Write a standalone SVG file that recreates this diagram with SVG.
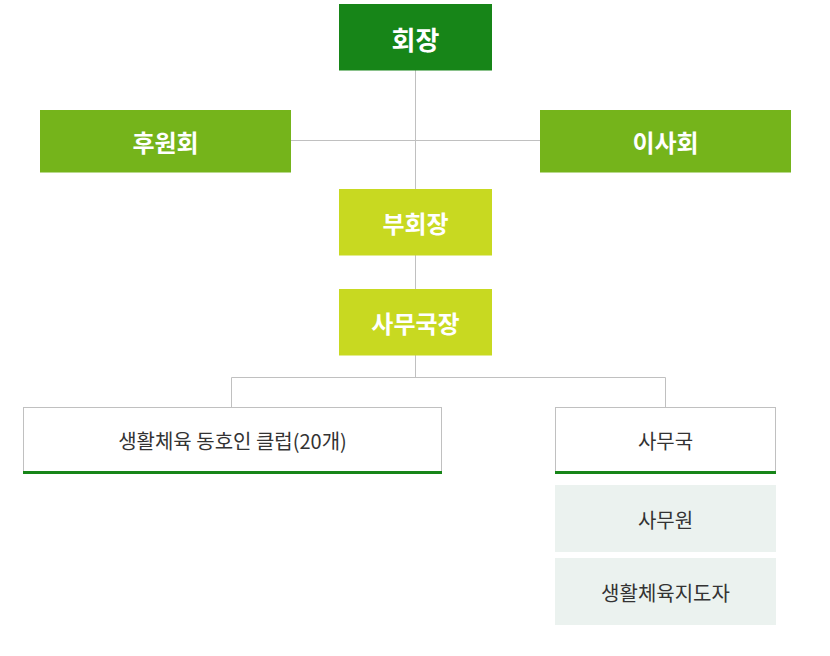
<svg xmlns="http://www.w3.org/2000/svg" width="830" height="656" viewBox="0 0 830 656">
<style>
text{font-family:"Noto Sans CJK KR","Noto Sans",sans-serif;text-anchor:middle;dominant-baseline:central}
.w{fill:#fff;font-weight:bold}
.d{fill:#333;font-size:20px}
.ln{stroke:#c0c0c0;stroke-width:1;fill:none}
</style>
<rect width="830" height="656" fill="#fff"/>
<g id="connectors" class="ln">
<path d="M415.5 70V189M291 140.5H540M415.5 255V289M415.5 355V377.5M231.5 377.5H665.5M231.5 377.5V407M665.5 377.5V407"/>
</g>
<g id="n1"><rect x="339" y="4" width="153" height="66.5" fill="#178518"/><text class="w" x="415.5" y="38" font-size="26">회장</text></g>
<g id="n2"><rect x="40" y="110" width="251" height="62.5" fill="#75b41b"/><text class="w" x="165.5" y="141" font-size="24">후원회</text></g>
<g id="n3"><rect x="540" y="110" width="251" height="62.5" fill="#75b41b"/><text class="w" x="665.5" y="141" font-size="24">이사회</text></g>
<g id="n4"><rect x="339" y="189" width="153" height="66.5" fill="#c8d921"/><text class="w" x="415.5" y="222" font-size="24">부회장</text></g>
<g id="n5"><rect x="339" y="289" width="153" height="66.5" fill="#c8d921"/><text class="w" x="415.5" y="322" font-size="24">사무국장</text></g>
<g id="n6"><rect x="23.5" y="407.5" width="418" height="64" fill="#fff" stroke="#c0c0c0"/><rect x="23" y="471" width="419" height="3" fill="#178518"/><text class="d" x="232.5" y="440">생활체육 동호인 클럽(20개)</text></g>
<g id="n7"><rect x="555.5" y="407.5" width="220" height="64" fill="#fff" stroke="#c0c0c0"/><rect x="555" y="471" width="221" height="3" fill="#178518"/><text class="d" x="665.5" y="440">사무국</text></g>
<g id="n8"><rect x="555" y="485" width="221" height="67" fill="#ebf2ef"/><text class="d" x="665.5" y="519" fill="#444">사무원</text></g>
<g id="n9"><rect x="555" y="558" width="221" height="67" fill="#ebf2ef"/><text class="d" x="665.5" y="592" fill="#444">생활체육지도자</text></g>
</svg>
